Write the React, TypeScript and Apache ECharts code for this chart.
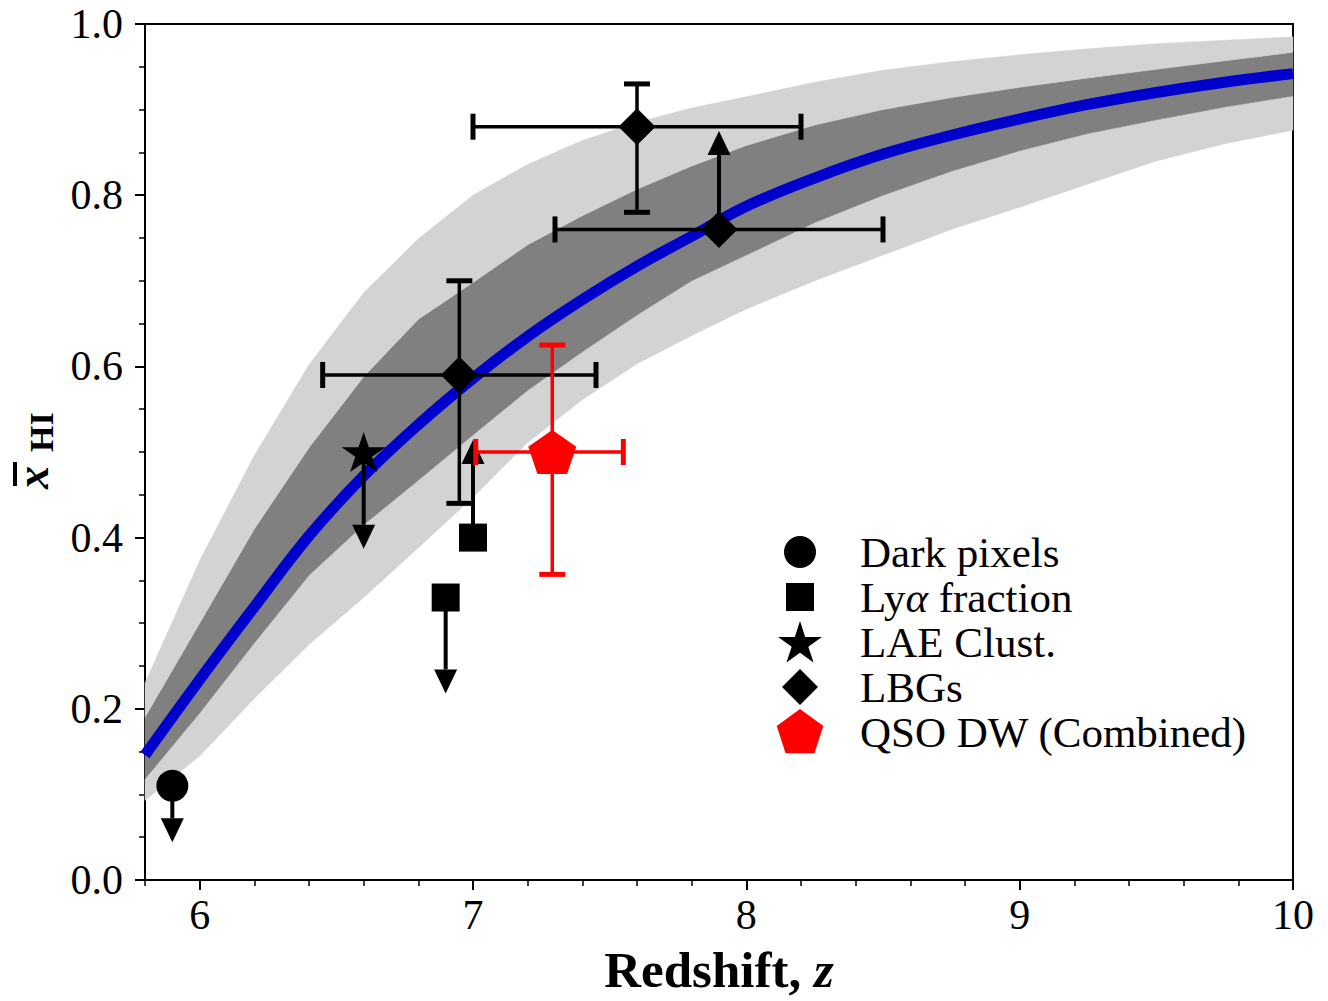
import React, { useEffect, useRef } from "react";
import * as echarts from "echarts";

// ---- Model curve and credible bands ----
const zGrid = [5.8, 6.0, 6.2, 6.4, 6.6, 6.8, 7.0, 7.2, 7.4, 7.6, 7.8, 8.0, 8.25, 8.5, 8.75, 9.0, 9.25, 9.5, 9.75, 10.0];
const bandUpper2 = [0.23, 0.373, 0.496, 0.602, 0.686, 0.749, 0.8, 0.836, 0.864, 0.885, 0.902, 0.915, 0.932, 0.946, 0.956, 0.964, 0.971, 0.977, 0.981, 0.985];
const bandUpper1 = [0.19, 0.3, 0.41, 0.505, 0.588, 0.655, 0.698, 0.742, 0.776, 0.807, 0.834, 0.858, 0.882, 0.9, 0.914, 0.926, 0.937, 0.947, 0.957, 0.967];
const medianCurve = [0.146, 0.234, 0.319, 0.402, 0.472, 0.532, 0.586, 0.635, 0.678, 0.717, 0.752, 0.787, 0.82, 0.848, 0.87, 0.889, 0.906, 0.92, 0.932, 0.942];
const bandLower1 = [0.118, 0.195, 0.277, 0.356, 0.415, 0.467, 0.52, 0.572, 0.617, 0.66, 0.7, 0.73, 0.768, 0.8, 0.828, 0.852, 0.872, 0.888, 0.903, 0.916];
const bandLower2 = [0.093, 0.145, 0.212, 0.275, 0.33, 0.388, 0.447, 0.511, 0.561, 0.603, 0.636, 0.667, 0.7, 0.73, 0.76, 0.786, 0.813, 0.84, 0.86, 0.876];

// ---- Observational constraints ----
const darkPixZ = [5.9];
const darkPixX = [0.11];
const darkPixArrowTip = [0.044];

const lyaZ = [6.9, 7.0];
const lyaX = [0.33, 0.4];
const lyaArrowTip = [0.218, 0.514];

const laeZ = [6.6];
const laeX = [0.5];
const laeArrowTip = [0.387];

const lbgZ = [6.95, 7.6, 7.9];
const lbgX = [0.59, 0.88, 0.76];
const lbgZLo = [6.45, 7.0, 7.3];
const lbgZHi = [7.45, 8.2, 8.5];
const lbgXLo = [0.44, 0.78, 0.76];
const lbgXHi = [0.7, 0.93, 0.76];
const lbgLowerLimitTip = [0.875]; // for the z=7.9 point

const qsoZ = [7.29];
const qsoX = [0.5];
const qsoZLo = [7.01];
const qsoZHi = [7.55];
const qsoXLo = [0.357];
const qsoXHi = [0.625];

const xMajorTicks = [6, 7, 8, 9, 10];
const legendNames = ["Dark pixels", "Lyα fraction", "LAE Clust.", "LBGs", "QSO DW (Combined)"];

const SERIF = "'Liberation Serif', 'Times New Roman', serif";

function polyPts(n: number, inner: number | null, R: number, cx: number, cy: number): string[] {
  const pts: string[] = [];
  const count = inner === null ? n : n * 2;
  const step = 360 / count;
  for (let i = 0; i < count; i++) {
    const a = ((-90 + i * step) * Math.PI) / 180;
    const r = inner !== null && i % 2 === 1 ? R * inner : R;
    pts.push(`${(cx + r * Math.cos(a)).toFixed(2)},${(cy + r * Math.sin(a)).toFixed(2)}`);
  }
  return pts;
}
const STAR = "path://M" + polyPts(5, 0.381966, 50, 50, 50).join(" L") + " Z";
const PENTAGON = "path://M" + polyPts(5, null, 50, 50, 50).join(" L") + " Z";

// legend icons in a 48x46 box (the leading moves fix the box so icons keep their own sizes)
const BOX = "M0,0 M48,46 ";
const LEG_ICONS = [
  "path://" + BOX + "M8,23 A16,16 0 1,1 40,23 A16,16 0 1,1 8,23 Z",
  "path://" + BOX + "M10,9 L38,9 L38,37 L10,37 Z",
  "path://" + BOX + "M" + polyPts(5, 0.381966, 23, 24, 25).join(" L") + " Z",
  "path://" + BOX + "M24,5 L42,23 L24,41 L6,23 Z",
  "path://" + BOX + "M" + polyPts(5, null, 24.5, 24, 24.5).join(" L") + " Z",
];

function errRender(color: string) {
  return (params: any, api: any) => {
    const z = api.value(0), y = api.value(1);
    const zlo = api.value(2), zhi = api.value(3), ylo = api.value(4), yhi = api.value(5);
    const c = api.coord([z, y]);
    const l = api.coord([zlo, y]);
    const r = api.coord([zhi, y]);
    const lw = 3.5, cw = 5, cap = 13;
    const st = { stroke: color, lineWidth: lw };
    const cs = { stroke: color, lineWidth: cw };
    const children: any[] = [
      { type: "line", shape: { x1: l[0], y1: c[1], x2: r[0], y2: c[1] }, style: st },
      { type: "line", shape: { x1: l[0], y1: c[1] - cap, x2: l[0], y2: c[1] + cap }, style: cs },
      { type: "line", shape: { x1: r[0], y1: c[1] - cap, x2: r[0], y2: c[1] + cap }, style: cs },
    ];
    if (ylo !== yhi) {
      const b = api.coord([z, ylo]);
      const t = api.coord([z, yhi]);
      children.push(
        { type: "line", shape: { x1: c[0], y1: b[1], x2: c[0], y2: t[1] }, style: st },
        { type: "line", shape: { x1: c[0] - cap, y1: b[1], x2: c[0] + cap, y2: b[1] }, style: cs },
        { type: "line", shape: { x1: c[0] - cap, y1: t[1], x2: c[0] + cap, y2: t[1] }, style: cs }
      );
    }
    return { type: "group", children };
  };
}

function arrowRender(params: any, api: any) {
  const p0 = api.coord([api.value(0), api.value(1)]);
  const p1 = api.coord([api.value(0), api.value(2)]);
  const dir = p1[1] > p0[1] ? 1 : -1;
  const head = 24, hw = 11.5;
  const base = p1[1] - dir * head;
  return {
    type: "group",
    children: [
      { type: "line", shape: { x1: p0[0], y1: p0[1], x2: p0[0], y2: base }, style: { stroke: "#000", lineWidth: 4 } },
      {
        type: "polygon",
        shape: { points: [[p1[0] - hw, base], [p1[0] + hw, base], [p1[0], p1[1]]] },
        style: { fill: "#000" },
      },
    ],
  };
}

const bandDefs: [number[], number[], string][] = [
  [bandLower2, bandLower1, "#d3d3d3"],
  [bandLower1, bandUpper1, "#808080"],
  [bandUpper1, bandUpper2, "#d3d3d3"],
];

function bandRender(params: any, api: any) {
  const [lo, hi, color] = bandDefs[params.dataIndex];
  const top = zGrid.map((z, i) => api.coord([z, hi[i]]));
  const bot = zGrid.map((z, i) => api.coord([z, lo[i]])).reverse();
  return {
    type: "polygon",
    shape: { points: top.concat(bot) },
    style: { fill: color, stroke: color, lineWidth: 0.5 },
  };
}

export default function App() {
  const ref = useRef<HTMLDivElement>(null);
  useEffect(() => {
    document.body.style.margin = "0";
    if (!ref.current) return;
    const chart = echarts.init(ref.current, undefined, { renderer: "svg" });

    const lbgRows = lbgZ.map((z, i) => [z, lbgX[i], lbgZLo[i], lbgZHi[i], lbgXLo[i], lbgXHi[i]]);
    const qsoRows = qsoZ.map((z, i) => [z, qsoX[i], qsoZLo[i], qsoZHi[i], qsoXLo[i], qsoXHi[i]]);
    const arrowRows = [
      ...darkPixZ.map((z, i) => [z, darkPixX[i], darkPixArrowTip[i]]),
      ...lyaZ.map((z, i) => [z, lyaX[i], lyaArrowTip[i]]),
      ...laeZ.map((z, i) => [z, laeX[i], laeArrowTip[i]]),
      [lbgZ[2], lbgX[2], lbgLowerLimitTip[0]],
    ];
    const bandRows = bandDefs.map(([lo, hi]) => [zGrid[0], lo[0], hi[0]]);

    const option: any = {
      animation: false,
      grid: {
        left: 145,
        right: 35,
        top: 24,
        bottom: 121,
        show: true,
        borderColor: "#000",
        borderWidth: 2,
        outerBoundsMode: "none",
      },
      legend: {
        data: legendNames.map((name, i) => ({ name, icon: LEG_ICONS[i] })),
        orient: "vertical",
        left: 776,
        top: 529,
        padding: 0,
        itemWidth: 48,
        itemHeight: 46,
        itemGap: -1,
        selectedMode: false,
        textStyle: {
          fontFamily: SERIF,
          fontSize: 43,
          color: "#000",
          padding: [0, 0, 0, 31],
          rich: {
            r: { fontFamily: SERIF, fontSize: 43, color: "#000" },
            i: { fontFamily: SERIF, fontSize: 43, fontStyle: "italic", color: "#000" },
          },
        },
        formatter: (name: string) => (name === "Lyα fraction" ? "{r|Ly}{i|α}{r| fraction}" : name),
      },
      xAxis: [
        {
          type: "value",
          min: 5.8,
          max: 10,
          position: "bottom",
          name: "{b|Redshift, }{i|z}",
          nameLocation: "middle",
          nameGap: 70,
          nameTextStyle: {
            lineHeight: 40,
            rich: {
              b: { fontFamily: SERIF, fontWeight: "bold", fontSize: 51, lineHeight: 40, color: "#000" },
              i: { fontFamily: SERIF, fontWeight: "bold", fontStyle: "italic", fontSize: 51, lineHeight: 40, color: "#000" },
            },
          },
          axisLine: { show: true, lineStyle: { color: "#000", width: 2 } },
          axisTick: { show: true, length: 10, customValues: xMajorTicks, lineStyle: { color: "#000", width: 2 } },
          axisLabel: {
            customValues: xMajorTicks,
            fontFamily: SERIF,
            fontSize: 42,
            color: "#000",
            margin: 14,
            formatter: (v: number) => String(v),
          },
          splitLine: { show: false },
        },
        {
          type: "value",
          min: 5.8,
          max: 10,
          interval: 0.2,
          position: "bottom",
          axisLine: { show: false },
          axisTick: { show: true, length: 6, lineStyle: { color: "#000", width: 1.5 } },
          axisLabel: { show: false },
          splitLine: { show: false },
        },
      ],
      yAxis: {
        type: "value",
        min: 0,
        max: 1,
        interval: 0.2,
        axisLine: { show: true, lineStyle: { color: "#000", width: 2 } },
        axisTick: { show: true, length: 10, lineStyle: { color: "#000", width: 2 } },
        minorTick: { show: true, splitNumber: 4, length: 6, lineStyle: { color: "#000", width: 1.5 } },
        splitLine: { show: false },
        minorSplitLine: { show: false },
        axisLabel: {
          fontFamily: SERIF,
          fontSize: 42,
          color: "#000",
          margin: 22,
          showMinLabel: true,
          showMaxLabel: true,
          formatter: (v: number) => v.toFixed(1),
        },
      },
      graphic: [
        {
          type: "group",
          x: 0,
          y: 490,
          rotation: Math.PI / 2,
          children: [
            {
              type: "text",
              x: 1,
              y: 32,
              style: {
                text: "x",
                font: `italic bold 46px ${SERIF}`,
                fill: "#000",
                verticalAlign: "middle",
                align: "left",
              },
            },
            { type: "rect", shape: { x: 4, y: 13, width: 24, height: 4 }, style: { fill: "#000" } },
            {
              type: "text",
              x: 38,
              y: 41.5,
              style: {
                text: "HI",
                font: `bold 34px ${SERIF}`,
                fill: "#000",
                verticalAlign: "middle",
                align: "left",
              },
            },
          ],
        },
      ],
      series: [
        {
          type: "custom",
          name: "bands",
          data: bandRows,
          renderItem: bandRender,
          encode: { x: 0, y: [1, 2] },
          silent: true,
          z: 1,
        },
        {
          type: "line",
          name: "median",
          data: zGrid.map((z, i) => [z, medianCurve[i]]),
          symbol: "none",
          smooth: 0.4,
          silent: true,
          lineStyle: { color: "#0000cd", width: 11 },
          z: 2,
        },
        {
          type: "custom",
          name: "lbg-err",
          data: lbgRows,
          renderItem: errRender("#000"),
          encode: { x: [0, 2, 3], y: [1, 4, 5] },
          silent: true,
          z: 3,
        },
        {
          type: "custom",
          name: "limits",
          data: arrowRows,
          renderItem: arrowRender,
          encode: { x: 0, y: [1, 2] },
          silent: true,
          z: 3,
        },
        {
          type: "custom",
          name: "qso-err",
          data: qsoRows,
          renderItem: errRender("#ff0000"),
          encode: { x: [0, 2, 3], y: [1, 4, 5] },
          silent: true,
          z: 3,
        },
        {
          type: "scatter",
          name: "Dark pixels",
          data: darkPixZ.map((z, i) => [z, darkPixX[i]]),
          symbol: "circle",
          symbolSize: 32,
          itemStyle: { color: "#000", opacity: 1 },
          z: 4,
        },
        {
          type: "scatter",
          name: "Lyα fraction",
          data: lyaZ.map((z, i) => [z, lyaX[i]]),
          symbol: "rect",
          symbolSize: 28,
          itemStyle: { color: "#000", opacity: 1 },
          z: 4,
        },
        {
          type: "scatter",
          name: "LAE Clust.",
          data: laeZ.map((z, i) => [z, laeX[i]]),
          symbol: STAR,
          symbolSize: [44, 42],
          symbolKeepAspect: true,
          itemStyle: { color: "#000", opacity: 1 },
          z: 4,
        },
        {
          type: "scatter",
          name: "LBGs",
          data: lbgZ.map((z, i) => [z, lbgX[i]]),
          symbol: "diamond",
          symbolSize: [37, 37],
          itemStyle: { color: "#000", opacity: 1 },
          z: 4,
        },
        {
          type: "scatter",
          name: "QSO DW (Combined)",
          data: qsoZ.map((z, i) => [z, qsoX[i]]),
          symbol: PENTAGON,
          symbolSize: [48, 46],
          symbolKeepAspect: true,
          itemStyle: { color: "#ff0000", opacity: 1 },
          z: 4,
        },
      ],
    };
    chart.setOption(option);
    return () => chart.dispose();
  }, []);
  return <div ref={ref} style={{ width: 1328, height: 1001 }} />;
}
